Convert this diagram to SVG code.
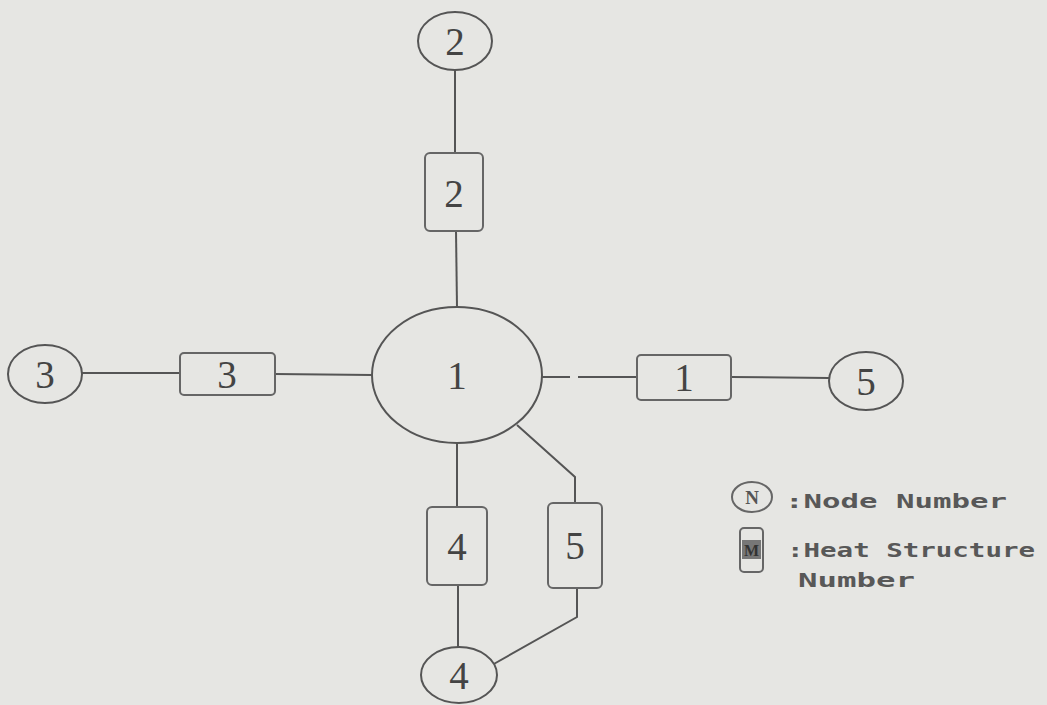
<svg xmlns="http://www.w3.org/2000/svg" width="1047" height="705" viewBox="0 0 1047 705">
  <style>
    .ln { fill: none; stroke: #555; stroke-width: 2; }
    .node { fill: #e6e6e3; stroke: #555; stroke-width: 2; }
    .hs { fill: #e6e6e3; stroke: #666; stroke-width: 2; }
    .num { font-family: "Liberation Serif", serif; font-size: 39px; fill: #444; text-anchor: middle; }
    .leg { font-family: "DejaVu Sans Mono", monospace; font-size: 19px; font-weight: bold; fill: #585858; }
  </style>
  <rect width="1047" height="705" fill="#e6e6e3"/>

  <!-- connectors -->
  <g id="connectors" class="ln">
    <line x1="455" y1="70" x2="455" y2="153"/>
    <line x1="456" y1="231" x2="457" y2="307"/>
    <line x1="82" y1="373" x2="180" y2="373"/>
    <line x1="275" y1="374" x2="372" y2="375"/>
    <line x1="542" y1="377" x2="570" y2="377"/>
    <line x1="578" y1="377" x2="637" y2="377"/>
    <line x1="731" y1="377" x2="829" y2="378"/>
    <line x1="457" y1="443" x2="457" y2="507"/>
    <line x1="458" y1="585" x2="458" y2="647"/>
    <polyline points="517,425 575,477 575,503"/>
    <polyline points="577,588 577,617 492,665"/>
  </g>

  <!-- control volumes (nodes) -->
  <g id="node-1">
    <ellipse class="node" cx="457" cy="375" rx="85" ry="68"/>
    <text class="num" x="457" y="389">1</text>
  </g>
  <g id="node-2">
    <ellipse class="node" cx="455" cy="41" rx="37" ry="29"/>
    <text class="num" x="455" y="55">2</text>
  </g>
  <g id="node-3">
    <ellipse class="node" cx="45" cy="374" rx="37" ry="29"/>
    <text class="num" x="45" y="388">3</text>
  </g>
  <g id="node-4">
    <ellipse class="node" cx="459" cy="675" rx="38" ry="28"/>
    <text class="num" x="459" y="689">4</text>
  </g>
  <g id="node-5">
    <ellipse class="node" cx="866" cy="381" rx="37" ry="29"/>
    <text class="num" x="866" y="395">5</text>
  </g>

  <!-- heat structures -->
  <g id="hs-1">
    <rect class="hs" x="637" y="355" width="94" height="45" rx="4"/>
    <text class="num" x="684" y="391">1</text>
  </g>
  <g id="hs-2">
    <rect class="hs" x="425" y="153" width="58" height="78" rx="5"/>
    <text class="num" x="454" y="207">2</text>
  </g>
  <g id="hs-3">
    <rect class="hs" x="180" y="353" width="95" height="42" rx="4"/>
    <text class="num" x="227" y="388">3</text>
  </g>
  <g id="hs-4">
    <rect class="hs" x="427" y="507" width="60" height="78" rx="5"/>
    <text class="num" x="457" y="560">4</text>
  </g>
  <g id="hs-5">
    <rect class="hs" x="548" y="503" width="54" height="85" rx="5"/>
    <text class="num" x="575" y="559">5</text>
  </g>

  <!-- legend -->
  <g id="legend">
    <ellipse class="hs" cx="752" cy="497" rx="20" ry="15" stroke-width="1.8"/>
    <text x="752" y="504" font-family="Liberation Serif, serif" font-size="19" font-weight="bold" fill="#555" text-anchor="middle">N</text>
    <text class="leg" x="785" y="508" textLength="222" lengthAdjust="spacingAndGlyphs">:Node Number</text>
    <rect class="hs" x="740" y="528" width="23" height="44" rx="4" stroke-width="1.8"/>
    <rect x="742" y="540" width="19" height="19" fill="#777"/>
    <text x="751.5" y="556" font-family="Liberation Serif, serif" font-size="16" font-weight="bold" fill="#333" text-anchor="middle">M</text>
    <text class="leg" x="787" y="557" textLength="248" lengthAdjust="spacingAndGlyphs">:Heat Structure</text>
    <text class="leg" x="798" y="587" textLength="117" lengthAdjust="spacingAndGlyphs">Number</text>
  </g>
</svg>
